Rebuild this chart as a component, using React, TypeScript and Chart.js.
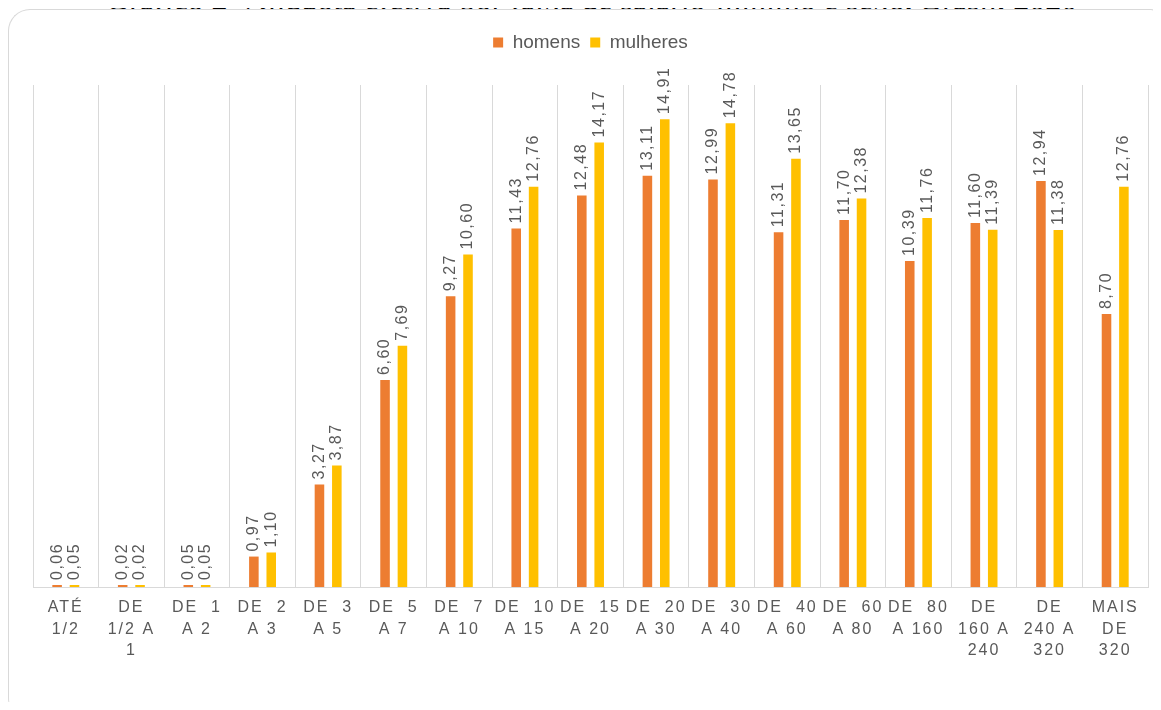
import React, { useEffect, useRef } from "react";
import { Chart, registerables } from "chart.js";

Chart.register(...registerables);

const titleText = "Gráfico 2- Alíquota efetiva por faixa de salário-mínimo e sexo, Brasil, 2020";

const categories: string[][] = [
  ["ATÉ", "1/2"],
  ["DE", "1/2 A", "1"],
  ["DE  1", "A 2"],
  ["DE  2", "A 3"],
  ["DE  3", "A 5"],
  ["DE  5", "A 7"],
  ["DE  7", "A 10"],
  ["DE  10", "A 15"],
  ["DE  15", "A 20"],
  ["DE  20", "A 30"],
  ["DE  30", "A 40"],
  ["DE  40", "A 60"],
  ["DE  60", "A 80"],
  ["DE  80", "A 160"],
  ["DE", "160 A", "240"],
  ["DE", "240 A", "320"],
  ["MAIS", "DE", "320"],
];

const homens: number[] = [0.06, 0.02, 0.05, 0.97, 3.27, 6.6, 9.27, 11.43, 12.48, 13.11, 12.99, 11.31, 11.7, 10.39, 11.6, 12.94, 8.7];
const mulheres: number[] = [0.05, 0.02, 0.05, 1.1, 3.87, 7.69, 10.6, 12.76, 14.17, 14.91, 14.78, 13.65, 12.38, 11.76, 11.39, 11.38, 12.76];

const seriesNames = ["homens", "mulheres"];
const seriesColors = ["#ED7D31", "#FFC000"];

const FONT = "'Liberation Sans', Arial, sans-serif";
const TEXT = "#595959";
const GRID = "#d9d9d9";

const fmt = (v: number) => v.toFixed(2).replace(".", ",");

const labelsPlugin = {
  id: "barLabels",
  beforeInit(chart: any) {
    const legend = chart.legend;
    if (legend) {
      const origFit = legend.fit;
      legend.fit = function () {
        origFit.call(this);
        this.height = 62;
      };
    }
  },
  afterDatasetsDraw(chart: any) {
    const ctx = chart.ctx as CanvasRenderingContext2D;
    ctx.save();
    ctx.font = `16px ${FONT}`;
    ctx.fillStyle = TEXT;
    (ctx as any).letterSpacing = "1.5px";
    chart.data.datasets.forEach((ds: any, di: number) => {
      const meta = chart.getDatasetMeta(di);
      meta.data.forEach((bar: any, i: number) => {
        const v = ds.data[i];
        ctx.save();
        ctx.translate(bar.x, bar.y - 5);
        ctx.rotate(-Math.PI / 2);
        ctx.textAlign = "left";
        ctx.textBaseline = "middle";
        ctx.fillText(fmt(v), 0, 0);
        ctx.restore();
      });
    });
    ctx.restore();
    (ctx as any).letterSpacing = "2px";
  },
  afterDraw(chart: any) {
    (chart.ctx as any).letterSpacing = "0px";
  },
};

export default function App() {
  const ref = useRef<HTMLCanvasElement | null>(null);

  useEffect(() => {
    if (!ref.current) return;
    const chart = new Chart(ref.current, {
      type: "bar",
      data: {
        labels: categories,
        datasets: [
          { label: seriesNames[0], data: homens, backgroundColor: seriesColors[0], borderWidth: 0, minBarLength: 2 },
          { label: seriesNames[1], data: mulheres, backgroundColor: seriesColors[1], borderWidth: 0, minBarLength: 2 },
        ],
      },
      options: {
        animation: false,
        responsive: false,
        maintainAspectRatio: false,
        datasets: { bar: { categoryPercentage: 0.53, barPercentage: 0.55 } },
        layout: { padding: { left: 24, right: 8, top: 13, bottom: 0 } },
        plugins: {
          tooltip: { enabled: false },
          legend: {
            position: "top",
            labels: {
              font: { family: FONT, size: 19 },
              color: TEXT,
              boxWidth: 10,
              boxHeight: 10,
              padding: 10,
            },
          },
        },
        scales: {
          x: {
            grid: { color: GRID, drawTicks: false, offset: true },
            border: { color: GRID },
            ticks: {
              z: 1,
              color: TEXT,
              font: { family: FONT, size: 16, lineHeight: 1.35 },
              padding: 10,
              maxRotation: 0,
              autoSkip: false,
            },
            afterFit: (scale: any) => {
              scale.height = 121;
            },
          },
          y: {
            display: false,
            min: 0,
            max: 16,
          },
        },
      },
      plugins: [labelsPlugin],
    });
    return () => chart.destroy();
  }, []);

  return (
    <div style={{ position: "relative", width: 1145, height: 694 }}>
      <div
        style={{
          position: "absolute",
          left: -8,
          top: -8,
          width: 1161,
          height: 710,
          overflow: "hidden",
        }}
      >
        <div
          style={{
            position: "absolute",
            left: 11,
            top: -17,
            width: 1161,
            textAlign: "center",
            fontFamily: "'Liberation Serif', 'Times New Roman', serif",
            fontSize: 32,
            lineHeight: "32px",
            color: "#000",
            whiteSpace: "nowrap",
          }}
        >
          {titleText}
        </div>
        <div
          style={{
            position: "absolute",
            left: 8,
            top: 9,
            width: 1147,
            height: 710,
            borderTop: "1px solid #d9d9d9",
            borderLeft: "1px solid #d9d9d9",
            borderRight: "1px solid #f4f4f4",
            borderTopLeftRadius: 22,
            borderTopRightRadius: 6,
            borderBottomLeftRadius: 22,
            background: "#fff",
          }}
        />
        <canvas
          ref={ref}
          width={1147}
          height={698}
          style={{ position: "absolute", left: 9, top: 10, display: "block" }}
        />
      </div>
    </div>
  );
}
